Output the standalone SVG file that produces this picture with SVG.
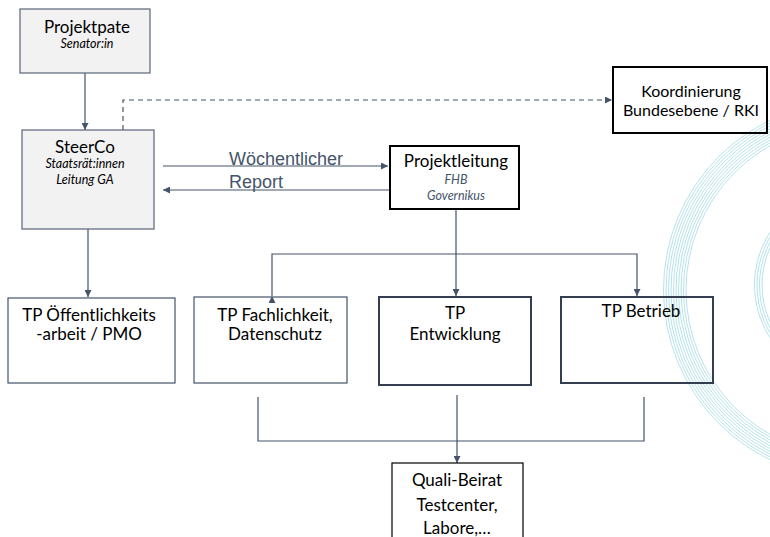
<svg xmlns="http://www.w3.org/2000/svg" width="770" height="537" viewBox="0 0 770 537">
<style>
.bg{fill:#ffffff}
.wm{fill:none;stroke:#a3dae4;stroke-width:0.8}
.t{font-family:Lato,"Open Sans","Liberation Sans",sans-serif;font-size:17px;fill:#000;text-anchor:middle}
.s{font-family:Lato,"Open Sans","Liberation Sans",sans-serif;font-size:12.5px;font-style:italic;fill:#000;text-anchor:middle}
.sg{fill:#44546a}
.lbl{font-family:"Liberation Sans",Arial,sans-serif;font-size:18px;fill:#44546a}
.gray{fill:#f2f2f2;stroke:#5b6477;stroke-width:1.2}
.thin{fill:none;stroke:#44546a;stroke-width:1.2}
.thick{fill:none;stroke:#000;stroke-width:2}
.dark{fill:none;stroke:#333f50;stroke-width:2}
.blk{fill:none;stroke:#000;stroke-width:1.2}
.c{fill:none;stroke:#44546a;stroke-width:1.2}
.d{fill:none;stroke:#44546a;stroke-width:1.2;stroke-dasharray:5 4}
</style>
<defs>
<marker id="ah" viewBox="0 0 10 10" refX="10" refY="5" markerWidth="7" markerHeight="7" markerUnits="userSpaceOnUse" orient="auto">
<path d="M0,0 L10,5 L0,10 z" fill="#44546a"/>
</marker>
</defs>
<rect class="bg" x="0" y="0" width="770" height="537"/>
<g id="watermark">
<circle class="wm" cx="852" cy="290" r="166"/>
<circle class="wm" cx="852" cy="290" r="168.5"/>
<circle class="wm" cx="852" cy="290" r="171"/>
<circle class="wm" cx="852" cy="290" r="173.5"/>
<circle class="wm" cx="852" cy="290" r="176"/>
<circle class="wm" cx="852" cy="290" r="178.5"/>
<circle class="wm" cx="852" cy="290" r="181"/>
<circle class="wm" cx="852" cy="290" r="183.5"/>
<circle class="wm" cx="852" cy="290" r="186"/>
<circle class="wm" cx="852" cy="290" r="188.5"/>
<circle class="wm" cx="852" cy="285" r="90"/>
<circle class="wm" cx="852" cy="285" r="92.5"/>
<circle class="wm" cx="852" cy="285" r="95"/>
<circle class="wm" cx="852" cy="285" r="97.5"/>
</g>
<g id="connectors">
<line class="c" x1="85" y1="73" x2="85" y2="130" marker-end="url(#ah)"/>
<path class="d" d="M123,130 V100 H612" marker-end="url(#ah)"/>
<line class="c" x1="163" y1="166" x2="388" y2="166" marker-end="url(#ah)"/>
<line class="c" x1="390" y1="190" x2="163" y2="190" marker-end="url(#ah)"/>
<line class="c" x1="88" y1="229" x2="88" y2="297" marker-end="url(#ah)"/>
<line class="c" x1="456" y1="209" x2="456" y2="296" marker-end="url(#ah)"/>
<path class="c" d="M272,296 V254 H637 V296" marker-start="url(#ah)" marker-end="url(#ah)"/>
<path class="c" d="M258,397 V441 H644 V397"/>
<line class="c" x1="457" y1="395" x2="457" y2="441"/>
<line class="c" x1="457" y1="441" x2="457" y2="463" marker-end="url(#ah)"/>
<text class="lbl" x="229" y="165">Wöchentlicher</text>
<text class="lbl" x="229" y="188">Report</text>
</g>
<g id="projektpate">
<rect class="gray" x="20" y="9" width="130" height="64"/>
<text class="t" x="87" y="33">Projektpate</text>
<text class="s" x="87" y="48">Senator:in</text>
</g>
<g id="steerco">
<rect class="gray" x="22" y="130" width="132" height="99"/>
<text class="t" x="85" y="153">SteerCo</text>
<text class="s" x="85" y="168">Staatsrät:innen</text>
<text class="s" x="85" y="184">Leitung GA</text>
</g>
<g id="koordinierung">
<rect class="thick" x="613" y="67" width="154" height="66"/>
<text class="t" x="691" y="97" style="font-size:16px">Koordinierung</text>
<text class="t" x="691" y="116" style="font-size:16px">Bundesebene / RKI</text>
</g>
<g id="projektleitung">
<rect class="thick" x="390" y="146" width="129" height="63"/>
<text class="t" x="456" y="167">Projektleitung</text>
<text class="s sg" x="456" y="184">FHB</text>
<text class="s sg" x="456" y="200">Governikus</text>
</g>
<g id="tp-oeffentlichkeit">
<rect class="thin" x="8" y="298" width="167" height="85"/>
<text class="t" x="89" y="321">TP Öffentlichkeits</text>
<text class="t" x="89" y="340">-arbeit / PMO</text>
</g>
<g id="tp-fachlichkeit">
<rect class="thin" x="194" y="297" width="153" height="86"/>
<text class="t" x="275" y="321">TP Fachlichkeit,</text>
<text class="t" x="275" y="340">Datenschutz</text>
</g>
<g id="tp-entwicklung">
<rect class="dark" x="379" y="297" width="152" height="88"/>
<text class="t" x="455" y="319">TP</text>
<text class="t" x="455" y="340">Entwicklung</text>
</g>
<g id="tp-betrieb">
<rect class="dark" x="561" y="297" width="152" height="86"/>
<text class="t" x="641" y="317">TP Betrieb</text>
</g>
<g id="quali-beirat">
<rect class="blk" x="392" y="463" width="131" height="82"/>
<text class="t" x="457" y="486">Quali-Beirat</text>
<text class="t" x="457" y="511">Testcenter,</text>
<text class="t" x="457" y="534">Labore,…</text>
</g>
</svg>
